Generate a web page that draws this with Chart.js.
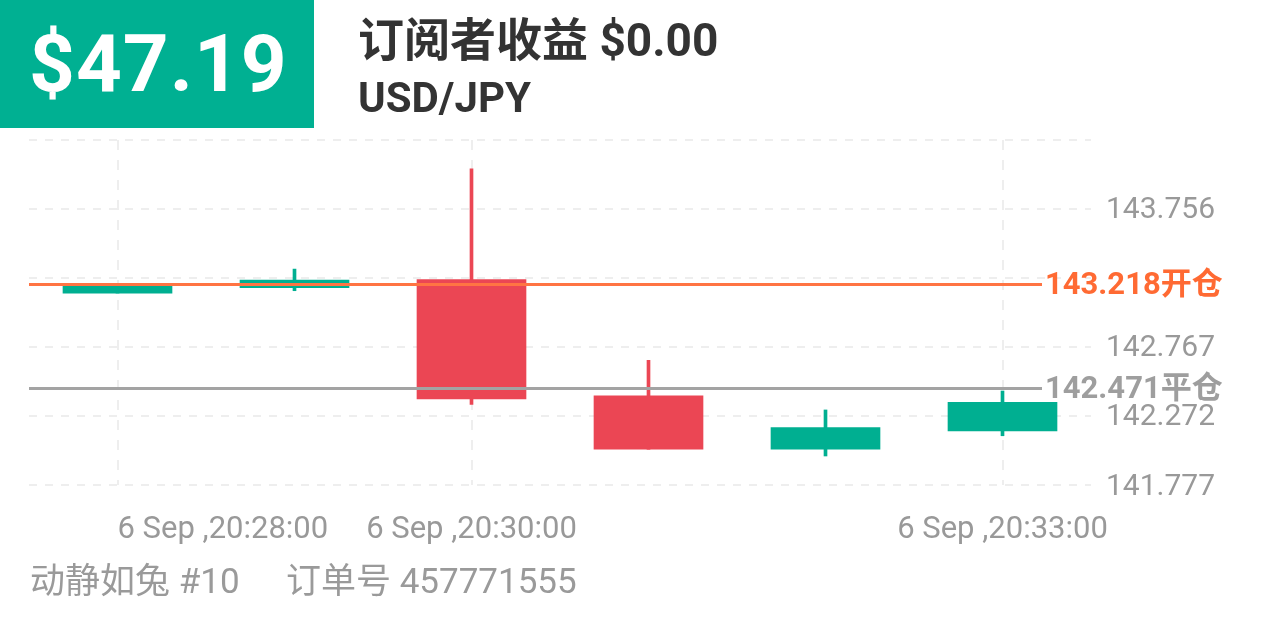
<!DOCTYPE html>
<html>
<head>
<meta charset="utf-8">
<script src="https://cdn.jsdelivr.net/npm/chart.js@4"></script>
<style>
  html, body { margin: 0; padding: 0; background: #ffffff; }
  body { width: 1266px; height: 633px; position: relative; overflow: hidden;
         font-family: Roboto, "Noto Sans CJK SC", sans-serif; }
  #profit { position: absolute; left: 0; top: 0; width: 314px; height: 128px; background: #00b092;
            color: #fff; font-weight: bold; font-size: 80px; line-height: 128px; text-indent: 29px;
            letter-spacing: 1px; }
  .title { position: absolute; left: 358px; color: #333333; font-weight: bold; white-space: nowrap; }
  #t1 { top: 12px; font-size: 46px; line-height: 56px; }
  #t2 { top: 71px; font-size: 42px; line-height: 54px; }
  .foot { position: absolute; top: 560px; color: #9a9a9a; font-size: 35px; line-height: 44px; white-space: nowrap; }
  #chartWrap { position: absolute; left: 0; top: 0; width: 1266px; height: 633px; }
</style>
</head>
<body>
<div id="chartWrap"><canvas id="kline" width="1266" height="633"></canvas></div>
<div id="profit">$47.19</div>
<div class="title" id="t1">订阅者收益 $0.00</div>
<div class="title" id="t2">USD/JPY</div>
<div class="foot" style="left:30px">动静如兔 #10</div>
<div class="foot" style="left:286px">订单号 457771555</div>

<script>
// Candle data (1 minute candles)
const categories = ['20:28', '20:29', '20:30', '20:31', '20:32', '20:33'];
const opens  = [143.153, 143.191, 143.249, 142.417, 142.033, 142.164];
const closes = [143.206, 143.247, 142.394, 142.033, 142.188, 142.370];
const highs  = [143.206, 143.325, 144.044, 142.671, 142.315, 142.451];
const lows   = [143.153, 143.170, 142.354, 142.033, 141.985, 142.130];

// Axis labels
const xLabels = ['6 Sep ,20:28:00', '', '6 Sep ,20:30:00', '', '', '6 Sep ,20:33:00'];
const yTicks = [141.777, 142.272, 142.767, 143.2615, 143.756, 144.2505];
const yTickLabels = ['141.777', '142.272', '142.767', '', '143.756', ''];

// Open / close price lines
const openPrice = 143.218;
const closePrice = 142.471;

const GREEN = '#00af91';
const RED = '#eb4654';
const FONT = 'Roboto, "Noto Sans CJK SC", sans-serif';

const candleColors = opens.map((o, i) => closes[i] >= o ? GREEN : RED);

// Labels and price lines drawn on top of the chart
const overlayPlugin = {
    id: 'overlay',
    afterDatasetsDraw(chart) {
        const ctx = chart.ctx;
        const area = chart.chartArea;
        const x = chart.scales.x;
        const y = chart.scales.y;
        ctx.save();

        // y tick labels on the right
        ctx.font = '30px ' + FONT;
        ctx.fillStyle = '#999999';
        ctx.textAlign = 'left';
        ctx.textBaseline = 'middle';
        yTicks.forEach((v, i) => {
            if (yTickLabels[i]) ctx.fillText(yTickLabels[i], area.right + 15, y.getPixelForValue(v) + 2);
        });

        // x labels below
        ctx.font = '31px ' + FONT;
        xLabels.forEach((lbl, i) => {
            if (!lbl) return;
            const px = x.getPixelForValue(i);
            const w = ctx.measureText(lbl).width;
            ctx.textAlign = (px - w / 2 < area.left) ? 'left' : 'center';
            ctx.fillText(lbl, px, area.bottom + 45);
        });

        // price lines
        const lineEnd = area.right - 49;
        const drawLine = (price, color, textColor, suffix) => {
            const py = Math.round(y.getPixelForValue(price)) + 0.5;
            ctx.strokeStyle = color;
            ctx.lineWidth = 3;
            ctx.beginPath();
            ctx.moveTo(area.left, py);
            ctx.lineTo(lineEnd, py);
            ctx.stroke();
            ctx.font = 'bold 31px ' + FONT;
            ctx.fillStyle = textColor;
            ctx.textAlign = 'left';
            ctx.fillText(price.toFixed(3) + suffix, lineEnd + 3, py + 2);
        };
        drawLine(openPrice, '#ff7443', '#ff6a33', '开仓');
        drawLine(closePrice, '#a3a3a3', '#9e9e9e', '平仓');

        ctx.restore();
    }
};

new Chart(document.getElementById('kline'), {
    type: 'bar',
    data: {
        labels: categories,
        datasets: [
            {
                label: 'body',
                data: opens.map((o, i) => [o, closes[i]]),
                backgroundColor: candleColors,
                barThickness: 109,
                grouped: false,
                borderWidth: 0,
                borderSkipped: false
            },
            {
                label: 'wick',
                data: lows.map((l, i) => [l, highs[i]]),
                backgroundColor: candleColors,
                barThickness: 3,
                grouped: false,
                borderWidth: 0,
                borderSkipped: false
            }
        ]
    },
    options: {
        responsive: false,
        animation: false,
        devicePixelRatio: 1,
        layout: { padding: { left: 29, top: 140, right: 175, bottom: 148 } },
        plugins: { legend: { display: false }, tooltip: { enabled: false } },
        scales: {
            x: {
                offset: true,
                grid: {
                    offset: false,
                    drawTicks: false,
                    lineWidth: 2,
                    color: (c) => xLabels[c.index] ? '#eeeeee' : 'rgba(0,0,0,0)'
                },
                border: { display: false, dash: [10, 10] },
                ticks: { display: false }
            },
            y: {
                min: yTicks[0],
                max: yTicks[yTicks.length - 1],
                afterBuildTicks: (axis) => { axis.ticks = yTicks.map(v => ({ value: v })); },
                grid: { drawTicks: false, lineWidth: 2, color: '#eeeeee' },
                border: { display: false, dash: [8, 8] },
                ticks: { display: false }
            }
        }
    },
    plugins: [overlayPlugin]
});
</script>
</body>
</html>
